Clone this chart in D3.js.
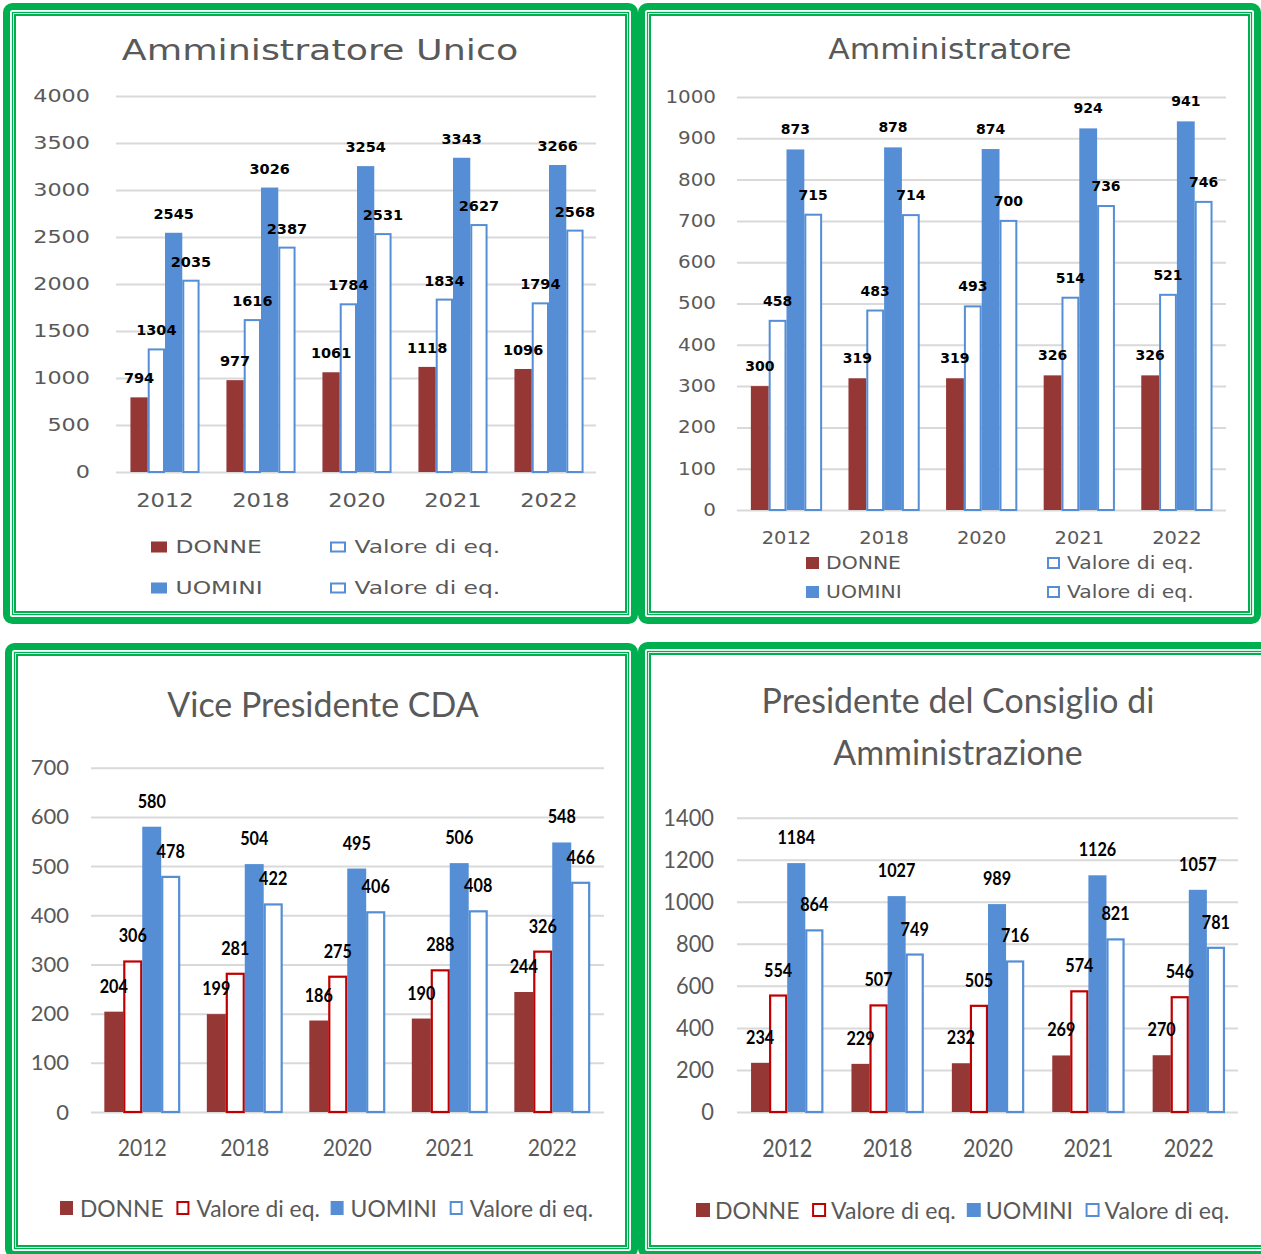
<!DOCTYPE html>
<html><head><meta charset="utf-8">
<script src="https://cdn.jsdelivr.net/npm/d3@7"></script>
<style>html,body{margin:0;padding:0;background:#fff;} svg{display:block;}</style>
</head><body>
<svg id="c" width="1261" height="1254"></svg>
<script>
// ---------- DATA ----------
const years = ["2012", "2018", "2020", "2021", "2022"];
const seriesKeys = ["donne", "donneEq", "uomini", "uominiEq"];
const seriesNames = ["DONNE", "Valore di eq.", "UOMINI", "Valore di eq."];

const titleAU = ["Amministratore Unico"];
const auDonne    = [794, 977, 1061, 1118, 1096];
const auDonneEq  = [1304, 1616, 1784, 1834, 1794];
const auUomini   = [2545, 3026, 3254, 3343, 3266];
const auUominiEq = [2035, 2387, 2531, 2627, 2568];
const auTicks    = [0, 500, 1000, 1500, 2000, 2500, 3000, 3500, 4000];

const titleAM = ["Amministratore"];
const amDonne    = [300, 319, 319, 326, 326];
const amDonneEq  = [458, 483, 493, 514, 521];
const amUomini   = [873, 878, 874, 924, 941];
const amUominiEq = [715, 714, 700, 736, 746];
const amTicks    = [0, 100, 200, 300, 400, 500, 600, 700, 800, 900, 1000];

const titleVP = ["Vice Presidente CDA"];
const vpDonne    = [204, 199, 186, 190, 244];
const vpDonneEq  = [306, 281, 275, 288, 326];
const vpUomini   = [580, 504, 495, 506, 548];
const vpUominiEq = [478, 422, 406, 408, 466];
const vpTicks    = [0, 100, 200, 300, 400, 500, 600, 700];

const titlePC = ["Presidente del Consiglio di", "Amministrazione"];
const pcDonne    = [234, 229, 232, 269, 270];
const pcDonneEq  = [554, 507, 505, 574, 546];
const pcUomini   = [1184, 1027, 989, 1126, 1057];
const pcUominiEq = [864, 749, 716, 821, 781];
const pcTicks    = [0, 200, 400, 600, 800, 1000, 1200, 1400];

// ---------- STYLE ----------
const GREEN = "#00B050", DONNE_FILL = "#953735", BLUE = "#558ED5", RED_LINE = "#C00000",
      GREY = "#595959", GRID = "#D9D9D9";

const svg = d3.select("#c");
svg.append("rect").attr("width", 1261).attr("height", 1254).attr("fill", "#fff");

function stretch(sel, sx) {
  sel.each(function () {
    const L = this.getComputedTextLength();
    if (L > 0 && Math.abs(sx - 1) > 0.001) {
      this.setAttribute("textLength", (L * sx).toFixed(2));
      this.setAttribute("lengthAdjust", "spacingAndGlyphs");
    }
  });
}

function frame(g, f) {
  const [x0, y0, x1, y1] = f;
  g.append("rect").attr("x", x0 + 3.5).attr("y", y0 + 3.5)
    .attr("width", x1 - x0 - 7).attr("height", y1 - y0 - 7).attr("rx", 6)
    .attr("fill", "none").attr("stroke", GREEN).attr("stroke-width", 7);
  g.append("rect").attr("x", x0 + 9.5).attr("y", y0 + 9.5)
    .attr("width", x1 - x0 - 19).attr("height", y1 - y0 - 19)
    .attr("fill", "none").attr("stroke", GREEN).attr("stroke-width", 1.3);
  g.append("rect").attr("x", x0 + 12).attr("y", y0 + 12)
    .attr("width", x1 - x0 - 24).attr("height", y1 - y0 - 24)
    .attr("fill", "none").attr("stroke", GREEN).attr("stroke-width", 2);
}

function seriesStyle(k, eqWomenColor) {
  if (k === "donne") return { fill: DONNE_FILL, stroke: "none" };
  if (k === "uomini") return { fill: BLUE, stroke: "none" };
  if (k === "donneEq") return { fill: "#fff", stroke: eqWomenColor };
  return { fill: "#fff", stroke: BLUE };
}

function panel(p) {
  const g = svg.append("g");
  frame(g, p.frame);

  const x0 = d3.scaleBand().domain(years).range(p.xRange).paddingInner(p.pad).paddingOuter(p.pad / 2);
  const x1 = d3.scaleBand().domain(seriesKeys).range([0, x0.bandwidth()]);
  const y = d3.scaleLinear().domain([0, d3.max(p.ticks)]).range(p.yRange);

  // title
  const tt = g.append("g").selectAll("text").data(p.title).join("text")
    .attr("x", p.titleX).attr("y", (d, i) => p.titleY[i])
    .attr("text-anchor", "middle").attr("fill", GREY)
    .style("font-family", p.font).style("font-size", p.st.title[0] + "px")
    .text(d => d);
  stretch(tt, p.st.title[1]);

  // y axis with gridlines
  const gw = p.gridRange[1] - p.gridRange[0];
  const ga = g.append("g").attr("transform", `translate(${p.gridRange[0]},0)`)
    .call(d3.axisLeft(y).tickValues(p.ticks).tickSize(-gw).tickPadding(p.tickPad).tickFormat(d3.format("d")));
  ga.select(".domain").remove();
  ga.selectAll(".tick line").attr("stroke", GRID).attr("stroke-width", 2);
  const tks = ga.selectAll(".tick text").attr("fill", GREY)
    .style("font-family", p.font).style("font-size", p.st.tick[0] + "px");
  stretch(tks, p.st.tick[1]);

  // flattened data
  const flat = [];
  years.forEach((yr, i) => seriesKeys.forEach(k => flat.push({ yr, k, v: p.data[k][i] })));
  const bw = x1.bandwidth();

  // bars
  g.append("g").selectAll("rect").data(flat).join("rect")
    .attr("x", d => {
      const s = seriesStyle(d.k, p.eqWomen);
      return x0(d.yr) + x1(d.k) + (s.stroke === "none" ? 0 : 1);
    })
    .attr("width", d => seriesStyle(d.k, p.eqWomen).stroke === "none" ? bw : bw - 2)
    .attr("y", d => y(d.v))
    .attr("height", d => y(0) - y(d.v))
    .attr("fill", d => seriesStyle(d.k, p.eqWomen).fill)
    .attr("stroke", d => seriesStyle(d.k, p.eqWomen).stroke)
    .attr("stroke-width", p.eqStroke);

  // value labels (on top of all bars)
  const lbl = g.append("g").selectAll("text").data(flat).join("text")
    .attr("x", d => x0(d.yr) + x1(d.k) + bw / 2)
    .attr("y", d => y(d.v) - p.labelOff)
    .attr("text-anchor", "middle").attr("fill", "#000")
    .style("font-family", p.font).style("font-weight", "bold")
    .style("font-size", p.st.label[0] + "px")
    .text(d => d.v);
  stretch(lbl, p.st.label[1]);

  // x labels
  const xl = g.append("g").selectAll("text").data(years).join("text")
    .attr("x", d => x0(d) + x0.bandwidth() / 2).attr("y", p.xLabelY)
    .attr("text-anchor", "middle").attr("fill", GREY)
    .style("font-family", p.font).style("font-size", p.st.xlab[0] + "px")
    .text(d => d);
  stretch(xl, p.st.xlab[1]);

  // legend
  const lg = g.append("g");
  const items = seriesKeys.map((k, i) => ({ k, name: seriesNames[i] }));
  function swatch(k, x, yc) {
    const s = seriesStyle(k, p.eqWomen);
    const sw = p.legend.sw, sh = p.legend.sh;
    if (s.stroke === "none") {
      lg.append("rect").attr("x", x).attr("y", yc - sh / 2).attr("width", sw).attr("height", sh).attr("fill", s.fill);
    } else {
      lg.append("rect").attr("x", x + 1).attr("y", yc - sh / 2 + 1).attr("width", sw - 2).attr("height", sh - 2)
        .attr("fill", "#fff").attr("stroke", s.stroke).attr("stroke-width", 2);
    }
  }
  function ltext(name, x, yc) {
    const t = lg.append("text").attr("x", x).attr("y", yc).attr("dy", "0.36em")
      .attr("fill", GREY).style("font-family", p.font).style("font-size", p.st.legend[0] + "px").text(name);
    stretch(t, p.st.legend[1]);
    return t.node().getComputedTextLength() * p.st.legend[1];
  }
  if (p.legend.type === "grid") {
    const order = [[0, 1], [2, 3]];
    order.forEach((row, r) => row.forEach((idx, c) => {
      const it = items[idx];
      swatch(it.k, p.legend.cols[c], p.legend.rows[r]);
      ltext(it.name, p.legend.cols[c] + p.legend.textOff, p.legend.rows[r]);
    }));
  } else {
    let cx = p.legend.x;
    items.forEach(it => {
      swatch(it.k, cx, p.legend.y);
      const w = ltext(it.name, cx + p.legend.textOff, p.legend.y);
      cx = cx + p.legend.textOff + w + p.legend.gap;
    });
  }
}

panel({
  frame: [3, 3, 638, 624], xRange: [117, 597], pad: 0.28, ticks: auTicks, yRange: [472, 96],
  gridRange: [116, 596], tickPad: 26, xLabelY: 507, title: titleAU, titleX: 320, titleY: [60],
  font: "DejaVu Sans", eqWomen: BLUE, eqStroke: 2, labelOff: 14,
  data: { donne: auDonne, donneEq: auDonneEq, uomini: auUomini, uominiEq: auUominiEq },
  st: { title: [28, 1.3], tick: [18, 1.24], xlab: [19, 1.19], legend: [18, 1.3], label: [14.5, 1.0] },
  legend: { type: "grid", cols: [151, 330], rows: [547, 588], sw: 16, sh: 11, textOff: 24.5 }
});

panel({
  frame: [638, 3, 1261, 624], xRange: [737.7, 1225.7], pad: 0.27, ticks: amTicks, yRange: [510, 97],
  gridRange: [737, 1226], tickPad: 21, xLabelY: 544, title: titleAM, titleX: 950, titleY: [59],
  font: "DejaVu Sans", eqWomen: BLUE, eqStroke: 2, labelOff: 15,
  data: { donne: amDonne, donneEq: amDonneEq, uomini: amUomini, uominiEq: amUominiEq },
  st: { title: [29, 1.08], tick: [17, 1.17], xlab: [18, 1.08], legend: [18, 1.13], label: [14, 1.0] },
  legend: { type: "grid", cols: [806, 1047], rows: [563, 592], sw: 13, sh: 12, textOff: 20 }
});

panel({
  frame: [5, 643, 638, 1258], xRange: [91, 603.5], pad: 0.26, ticks: vpTicks, yRange: [1112, 767.7],
  gridRange: [91, 604], tickPad: 22, xLabelY: 1156, title: titleVP, titleX: 323, titleY: [717],
  font: "Lato", eqWomen: RED_LINE, eqStroke: 2.2, labelOff: 19,
  data: { donne: vpDonne, donneEq: vpDonneEq, uomini: vpUomini, uominiEq: vpUominiEq },
  st: { title: [35, 0.97], tick: [22, 1.0], xlab: [24, 0.88], legend: [24, 0.95], label: [18, 0.9] },
  legend: { type: "flow", x: 60, y: 1208, sw: 13, sh: 14, textOff: 20, gap: 17 }
});

panel({
  frame: [638, 642, 1280, 1258], xRange: [737, 1239], pad: 0.28, ticks: pcTicks, yRange: [1112, 817.7],
  gridRange: [737, 1238], tickPad: 23, xLabelY: 1157, title: titlePC, titleX: 958, titleY: [713, 765],
  font: "Lato", eqWomen: RED_LINE, eqStroke: 2.2, labelOff: 19,
  data: { donne: pcDonne, donneEq: pcDonneEq, uomini: pcUomini, uominiEq: pcUominiEq },
  st: { title: [35, 0.97], tick: [23, 0.95], xlab: [25, 0.86], legend: [24, 0.96], label: [18, 0.9] },
  legend: { type: "flow", x: 696, y: 1210, sw: 14, sh: 14, textOff: 19, gap: 16 }
});
</script>
</body></html>
